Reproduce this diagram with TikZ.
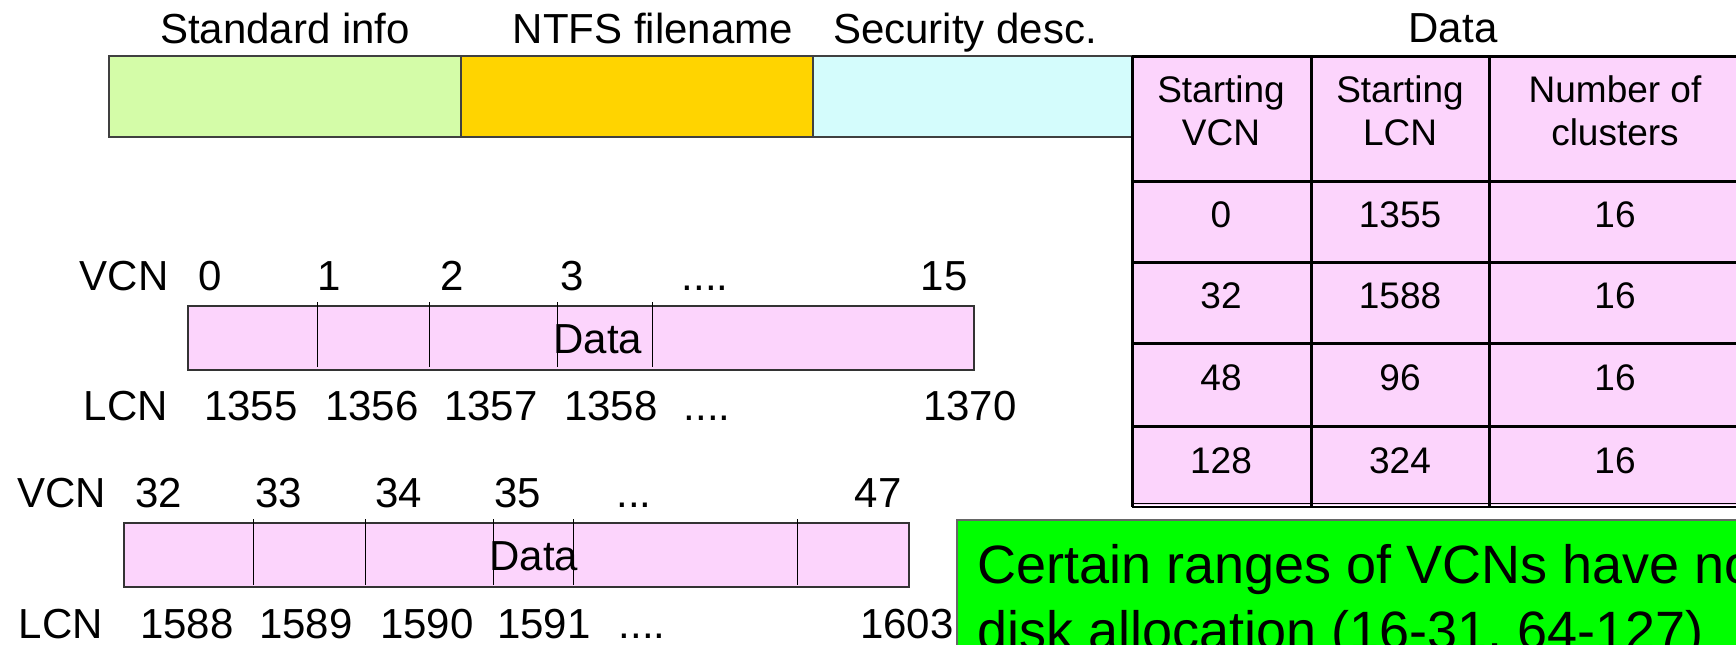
\documentclass[tikz,border=0pt]{standalone}
\usepackage{fontspec}
\setmainfont{Liberation Sans}
\definecolor{stdgreen}{RGB}{212,252,168}
\definecolor{namegold}{RGB}{255,212,0}
\definecolor{seccyan}{RGB}{212,252,252}
\definecolor{datapink}{RGB}{252,212,252}
\definecolor{notegreen}{RGB}{0,255,0}
\begin{document}
\begin{tikzpicture}[x=0.5pt,y=-0.5pt,
  lbl/.style={font=\fontsize{21}{25}\selectfont,anchor=base,inner sep=0pt},
  cell/.style={font=\fontsize{18.5}{22}\selectfont,anchor=base,inner sep=0pt},
  note/.style={font=\fontsize{27}{32}\selectfont,anchor=base west,inner sep=0pt},
  barline/.style={draw=black!75,line width=1pt},
  gridline/.style={draw=black,line width=1.5pt},
  runbox/.style={fill=datapink,draw=black!80,line width=1pt},
  tick/.style={draw=black,line width=0.5pt}]
\useasboundingbox (0,0) rectangle (1736,644);
\clip (0,0) rectangle (1736,644);

% MFT record attribute bar
\path[fill=stdgreen] (109,56) rectangle (461,137);
\path[fill=namegold] (461,56) rectangle (813,137);
\path[fill=seccyan] (813,56) rectangle (1133,137);
\draw[barline] (1133,56) -- (109,56) -- (109,137) -- (1133,137);
\draw[barline] (461,56) -- (461,137);
\draw[barline] (813,56) -- (813,137);
\node[lbl] (tstd) at (285,43) {Standard info};
\node[lbl] (tname) at (653,43) {NTFS filename};
\node[lbl] (tsec) at (965,43) {Security desc.};
\node[lbl] (tdata) at (1453,42) {Data};

% run list table
\path[fill=datapink] (1132,56) rectangle (1742,505);
\foreach \yy in {56,181,262,343,426}
  \draw[gridline] (1132,\yy) -- (1742,\yy);
\foreach \xx in {1132,1311,1489,1742}
  \draw[gridline] (\xx,56) -- (\xx,507);
\draw[draw=black,line width=0.75pt] (1132,503.5) -- (1742,503.5);
\draw[draw=black,line width=0.9pt] (1132,507) -- (1742,507);
\node[cell] (h1a) at (1221,102) {Starting};
\node[cell] (h1b) at (1221,145) {VCN};
\node[cell] (h2a) at (1400,102) {Starting};
\node[cell] (h2b) at (1400,145) {LCN};
\node[cell] (h3a) at (1615,102) {Number of};
\node[cell] (h3b) at (1615,145) {clusters};
\node[cell] (r1a) at (1221,227) {0};
\node[cell] (r1b) at (1400,227) {1355};
\node[cell] (r1c) at (1615,227) {16};
\node[cell] (r2a) at (1221,308) {32};
\node[cell] (r2b) at (1400,308) {1588};
\node[cell] (r2c) at (1615,308) {16};
\node[cell] (r3a) at (1221,390) {48};
\node[cell] (r3b) at (1400,390) {96};
\node[cell] (r3c) at (1615,390) {16};
\node[cell] (r4a) at (1221,473) {128};
\node[cell] (r4b) at (1400,473) {324};
\node[cell] (r4c) at (1615,473) {16};

% first run: VCN 0-15
\draw[runbox] (188,306) rectangle (974,370);
\foreach \xx in {317,429,557,652}
  \draw[tick] (\xx,302) -- (\xx,367);
\node[lbl] (adata) at (598,353) {Data};
\node[lbl] (avcn) at (124,290) {VCN};
\node[lbl] (av0) at (210,290) {0};
\node[lbl] (av1) at (329,290) {1};
\node[lbl] (av2) at (452,290) {2};
\node[lbl] (av3) at (572,290) {3};
\node[lbl] (avd) at (705,290) {....};
\node[lbl] (av15) at (944,290) {15};
\node[lbl] (alcn) at (126,420) {LCN};
\node[lbl] (al0) at (251,420) {1355};
\node[lbl] (al1) at (372,420) {1356};
\node[lbl] (al2) at (491,420) {1357};
\node[lbl] (al3) at (611,420) {1358};
\node[lbl] (ald) at (707,420) {....};
\node[lbl] (al15) at (970,420) {1370};

% second run: VCN 32-47
\draw[runbox] (124,523) rectangle (909,587);
\foreach \xx in {253,365,493,573,797}
  \draw[tick] (\xx,519) -- (\xx,585);
\node[lbl] (bdata) at (534,570) {Data};
\node[lbl] (bvcn) at (62,507) {VCN};
\node[lbl] (bv0) at (159,507) {32};
\node[lbl] (bv1) at (279,507) {33};
\node[lbl] (bv2) at (399,507) {34};
\node[lbl] (bv3) at (518,507) {35};
\node[lbl] (bvd) at (634,507) {...};
\node[lbl] (bv15) at (878,507) {47};
\node[lbl] (blcn) at (61,638) {LCN};
\node[lbl] (bl0) at (187,638) {1588};
\node[lbl] (bl1) at (306,638) {1589};
\node[lbl] (bl2) at (427,638) {1590};
\node[lbl] (bl3) at (544,638) {1591};
\node[lbl] (bld) at (642,638) {....};
\node[lbl] (bl15) at (907,638) {1603};

% note box
\draw[fill=notegreen,draw=black!60,line width=1pt] (957,520) rectangle (1800,720);
\node[note] (n1) at (977,583) {Certain ranges of VCNs have no};
\node[note] (n2) at (977,649) {disk allocation (16-31, 64-127)};
\end{tikzpicture}
\end{document}
